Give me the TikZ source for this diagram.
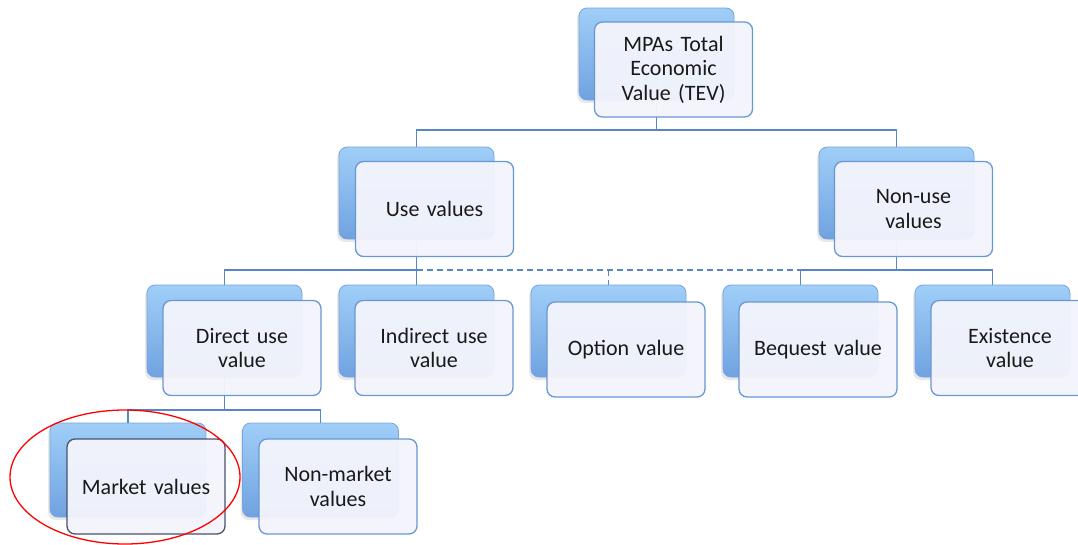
\documentclass[tikz,border=0pt]{standalone}
\usepackage{fontspec}
\setmainfont{Carlito}
\usetikzlibrary{shadows,shapes.geometric}
\definecolor{shtop}{RGB}{160,206,248}
\definecolor{shbot}{RGB}{112,162,224}
\definecolor{shline}{RGB}{120,165,222}
\definecolor{frfill}{RGB}{244,245,252}
\definecolor{frline}{RGB}{104,152,212}
\definecolor{conn}{RGB}{84,134,200}
\definecolor{darkline}{RGB}{72,82,110}
\tikzset{
  backbox/.style={rounded corners=8pt, top color=shtop, bottom color=shbot, draw=shline, line width=0.8pt,
    minimum width=155pt, minimum height=92pt, inner sep=0pt,
    drop shadow={opacity=0.18, shadow xshift=-2pt, shadow yshift=-3pt}},
  frontbox/.style={rounded corners=8pt, fill=frfill, fill opacity=0.95, text opacity=1, draw=frline, line width=1.3pt,
    minimum width=158pt, minimum height=95pt, inner sep=2pt, align=center, text width=150pt,
    font=\fontsize{22pt}{24.5pt}\selectfont, text=black!90},
  link/.style={draw=conn, line width=1.3pt},
  dlink/.style={draw=conn, line width=1.3pt, dash pattern=on 6pt off 4pt},
}
\begin{document}
\begin{tikzpicture}[x=1pt,y=-1pt]
\useasboundingbox (0,0) rectangle (1078,544);
\fill[white] (0,0) rectangle (1078,544);
% back boxes
\node[backbox] (tevS) at (656.5,54) {};
\node[backbox] (useS) at (416.5,193) {};
\node[backbox] (nonS) at (896.5,193) {};
\node[backbox] (dirS) at (224.5,331) {};
\node[backbox] (indS) at (416.5,331) {};
\node[backbox] (optS) at (608.5,331) {};
\node[backbox] (beqS) at (800.5,331) {};
\node[backbox] (exiS) at (992.5,331) {};
\node[backbox, minimum width=156pt, minimum height=94pt] (mktS) at (128,470) {};
\node[backbox, minimum width=156pt, minimum height=94pt] (nmkS) at (320.5,470) {};
% connectors
\coordinate (b1) at (656.5,130);
\coordinate (b2) at (416.5,270);
\coordinate (b3) at (896.5,270);
\coordinate (b4) at (224.5,410);
\draw[link] (tevS.center) -- (b1);
\draw[link] (b1) -| (useS.north);
\draw[link] (b1) -| (nonS.north);
\draw[link] (useS.center) -- (b2);
\draw[link] (b2) -| (dirS.north);
\draw[link] (b2) -- (indS.north);
\draw[link] (nonS.center) -- (b3);
\draw[link] (b3) -| (beqS.north);
\draw[link] (b3) -| (exiS.north);
\draw[dlink] (b2) -- (beqS.north |- b2);
\draw[dlink] (optS.north |- b2) -- (optS.north);
\draw[link] (dirS.center) -- (b4);
\draw[link] (b4) -| (mktS.north);
\draw[link] (b4) -| (nmkS.north);
% front boxes
\node[frontbox] (tev) at (673.5,69.5) {MPAs Total\\Economic\\Value (TEV)};
\node[frontbox] (use) at (434.5,209) {Use values};
\node[frontbox] (non) at (913.5,209) {Non-use\\values};
\node[frontbox] (dir) at (242,348) {Direct use\\value};
\node[frontbox] (ind) at (434,348) {Indirect use\\value};
\node[frontbox] (opt) at (626,349.5) {Option value};
\node[frontbox] (beq) at (818,349.5) {Bequest value};
\node[frontbox] (exi) at (1010,348) {Existence\\value};
\node[frontbox, draw=darkline] (mkt) at (146,486.5) {Market values};
\node[frontbox] (nmk) at (338,486.5) {Non-market\\values};
% red ellipse
\node[draw=red, line width=1.3pt, ellipse, minimum width=230pt, minimum height=134pt, inner sep=0pt] (circ) at (125,477) {};
\end{tikzpicture}
\end{document}
